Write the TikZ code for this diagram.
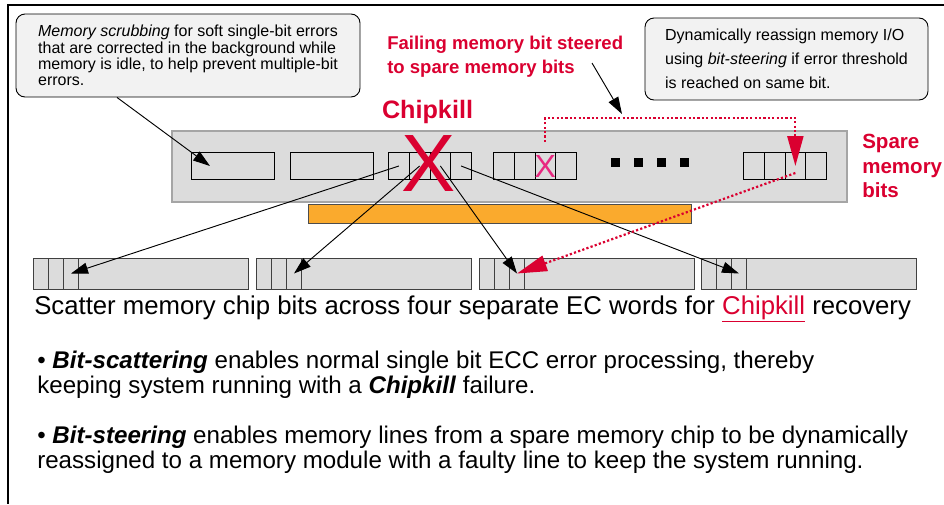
\documentclass[tikz,border=0pt]{standalone}
\usepackage{fontspec}
\setmainfont{Liberation Sans}
\usetikzlibrary{arrows.meta}
\usetikzlibrary{calc}
\definecolor{ibmred}{RGB}{218,0,48}
\definecolor{xpink}{RGB}{232,40,128}
\definecolor{chipgray}{RGB}{220,220,220}
\definecolor{edgegray}{RGB}{165,165,165}
\definecolor{stickorange}{RGB}{250,170,45}
\definecolor{notegray}{RGB}{242,242,242}
\newlength{\upx}
\setlength{\upx}{0.75pt}
\tikzstyle{note} = [rectangle, rounded corners=9\upx, draw = black, fill = notegray, line width=0.9\upx, align=left, inner sep=0pt]
\tikzstyle{chip} = [rectangle, draw = black, line width=1\upx, minimum width=83\upx, minimum height=27\upx, inner sep=0pt]
\tikzstyle{cell} = [rectangle, draw = black, line width=1\upx, minimum width=20.75\upx, minimum height=27\upx, inner sep=0pt]
\tikzstyle{word} = [rectangle, draw = black!75, fill = chipgray, line width=1\upx, minimum width=215\upx, minimum height=31\upx, inner sep=0pt]
\tikzstyle{wcell} = [rectangle, draw = black!75, line width=1\upx, minimum width=15\upx, minimum height=31\upx, inner sep=0pt]
\tikzstyle{dot} = [rectangle, fill = black, minimum size=9\upx, inner sep=0pt]
\tikzstyle{redlabel} = [text = ibmred, align=left, inner sep=0pt]
\tikzstyle{plain} = [align=left, inner sep=0pt]
\tikzstyle{arrow} = [-{Triangle[length=12.75pt,width=8.25pt]}, line width=0.7pt]
\tikzstyle{redarrow} = [-{Triangle[length=22.5pt,width=12pt]}, draw = ibmred, line width=1.65pt, dash pattern=on 1.65pt off 1.65pt]

\begin{document}
\begin{tikzpicture}[x=0.75pt, y=-0.75pt]
	\useasboundingbox (0,0) rectangle (944,504);
	\draw [line width=1.3\upx] (944,5) -- (8,5) -- (8,504);
	% memory module
	\node (dimm) [rectangle, draw = edgegray, fill = chipgray, line width=1.5\upx, minimum width=675\upx, minimum height=71\upx] at (509.5,166.5) {};
	\node (stick) [rectangle, draw = black!70, fill = stickorange, line width=1\upx, minimum width=383\upx, minimum height=19\upx] at (499.5,213.5) {};
	\node (chipA) [chip, anchor=west] at (191,166) {};
	\node (chipB) [chip, anchor=west] at (290,166) {};
	\foreach \i in {1,...,4} {
		\node (k\i) [cell, anchor=west] at (388+20.75*\i-20.75,166) {};
		\node (f\i) [cell, anchor=west] at (493+20.75*\i-20.75,166) {};
		\node (s\i) [cell, anchor=west] at (743+20.75*\i-20.75,166) {};
	}
	\foreach \d in {0,...,3}
		\node (dot\d) [dot] at (615.5+23*\d,162) {};
	% EC words
	\foreach \w/\x in {1/33,2/256,3/479,4/701} {
		\node (w\w) [word, anchor=west] at (\x,273.5) {};
		\foreach \c in {1,2,3}
			\node (w\w-\c) [wcell, anchor=west] at (\x+15*\c-15,273.5) {};
	}
	% notes and labels
	\node (scrub) [note, minimum width=344\upx, minimum height=83\upx, font=\fontsize{12}{12.2}\selectfont] at (188,55.5) {\textit{Memory scrubbing} for soft single-bit errors\\that are corrected in the background while\\memory is idle, to help prevent multiple-bit\\errors.};
	\node (reassign) [note, minimum width=283\upx, minimum height=82\upx, font=\fontsize{12}{18}\selectfont] at (786.5,59) {Dynamically reassign memory I/O\\using \textit{bit-steering} if error threshold\\is reached on same bit.};
	\node (fail) [redlabel, anchor=west, font=\fontsize{13.9}{18}\bfseries] at (387,57) {Failing memory bit steered\\to spare memory bits};
	\node (chiplbl) [redlabel, font=\fontsize{18.9}{20}\bfseries] at (427.5,112) {Chipkill};
	\node (spare) [redlabel, anchor=west, font=\fontsize{15.4}{18.4}\bfseries] at (862,166) {Spare\\memory\\bits};
	\node (pinkx) [text = xpink, inner sep=0pt, font=\fontsize{24}{24}\selectfont] at (f3.center) {X};
	\coordinate (failfrom) at (592,63);
	\coordinate (failtip) at (622,114);
	% connectors
	\draw [arrow]([xshift=-53.25pt]scrub.south) -- ([xshift=14.25pt]chipA.west);
	\draw [arrow](failfrom) -- (failtip);
	\draw [arrow](k1.center) -- (w1-3.center);
	\draw [arrow](k2.center) -- (w2-3.center);
	\draw [arrow](k3.center) -- (w3-3.center);
	\draw [arrow](k4.center) -- (w4-3.center);
	\draw [redarrow]([yshift=7.5pt]f3.north) -- ++(0,-24) -| (s3.center);
	\draw [redarrow]($(s3.center)+(0,7)$) -- (w3-3.center);
	\node (kill) [text = ibmred, inner sep=0pt, font=\fontsize{61}{61}\selectfont] at (428.5,164) {X};
	% bottom text
	\node (scatter) [plain, anchor=west, font=\fontsize{19.3}{21}\selectfont] at (34,309) {Scatter memory chip bits across four separate EC words for {\color{ibmred}\underline{Chipkill}} recovery};
	\node (scatbul) [plain, anchor=west, font=\fontsize{18.1}{18.75}\selectfont] at (37,375) {\textbullet\ \textbf{\textit{Bit-scattering}} enables normal single bit ECC error processing, thereby\\keeping system running with a \textbf{\textit{Chipkill}} failure.};
	\node (steerbul) [plain, anchor=west, font=\fontsize{18.1}{18.75}\selectfont] at (37,450) {\textbullet\ \textbf{\textit{Bit-steering}} enables memory lines from a spare memory chip to be dynamically\\reassigned to a memory module with a faulty line to keep the system running.};
\end{tikzpicture}
\end{document}
